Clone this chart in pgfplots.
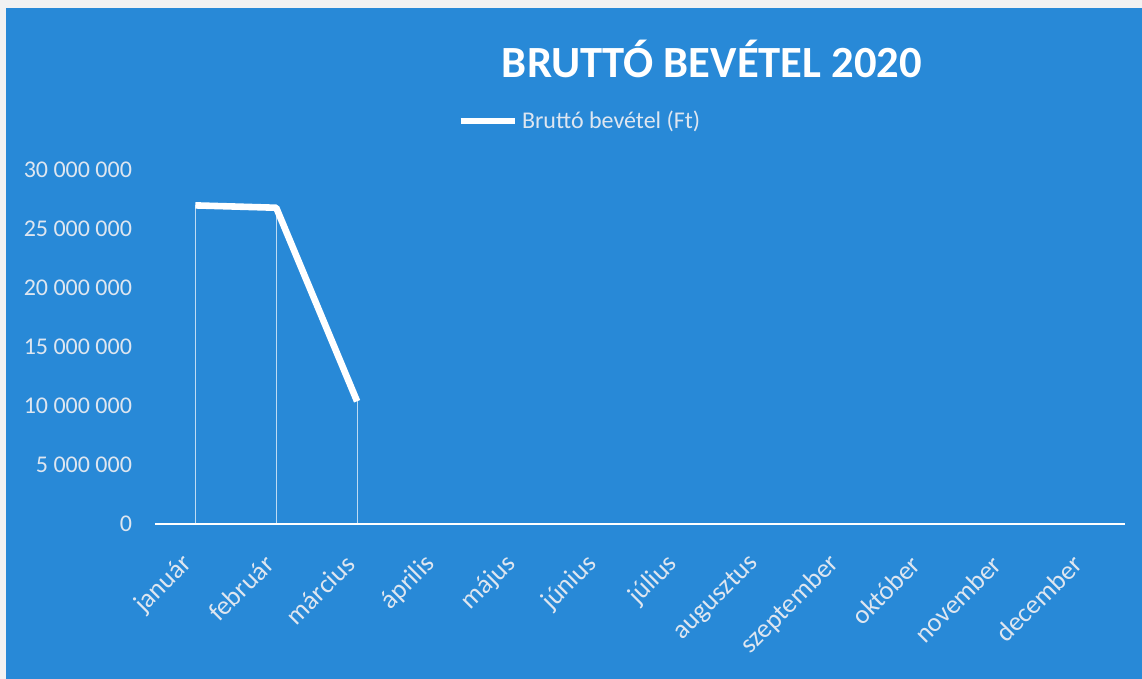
\documentclass[border=0pt]{standalone}
\usepackage{pgfplots}
\pgfplotsset{compat=1.18}
\usepackage{fontspec}
\setmainfont{Carlito}
\definecolor{bg}{RGB}{40,137,215}
\definecolor{ticktxt}{RGB}{222,230,240}
\begin{document}
\begin{tikzpicture}
\fill[white!90!gray] (0pt,0pt) rectangle (571pt,339.5pt);
\fill[bg] (3pt,0pt) rectangle (571pt,335.5pt);
\node[text=white, font=\bfseries\fontsize{22.3}{26}\selectfont] at (356pt,310pt) {BRUTTÓ BEVÉTEL 2020};
\begin{axis}[
  at={(77.5pt,77.5pt)}, anchor=south west,
  scale only axis, width=485pt, height=177pt,
  xmin=-0.5, xmax=11.5, ymin=0, ymax=30000000,
  axis x line=bottom, axis y line=left,
  x axis line style={-, white, line width=1.2pt},
  y axis line style={draw=none},
  major tick length=0pt,
  ytick={0,5000000,10000000,15000000,20000000,25000000,30000000},
  scaled y ticks=false,
  /pgf/number format/fixed,
  /pgf/number format/precision=0,
  /pgf/number format/1000 sep={\ },
  /pgf/number format/assume math mode=true,
  yticklabel style={text=ticktxt, font=\fontsize{12}{14}\selectfont, xshift=-8pt},
  xtick={0,1,2,3,4,5,6,7,8,9,10,11},
  xticklabels={január,február,március,április,május,június,július,augusztus,szeptember,október,november,december},
  xticklabel style={xshift=-1pt, yshift=-15.5pt, rotate=45, anchor=east, text=ticktxt, font=\fontsize{13.3}{15}\selectfont},
  clip=false,
  legend style={at={(rel axis cs:0.439,1.138)}, anchor=center, draw=none, fill=none, text=ticktxt, font=\fontsize{12}{14}\selectfont},
  legend image code/.code={\draw[white, line width=3.3pt] (0pt,0pt) -- (27pt,0pt);},
]
\addplot[ycomb, white, opacity=0.7, line width=0.55pt, forget plot] coordinates {(0,27000000) (1,26800000) (2,10400000)};
\addplot[white, line width=3.3pt, line join=round] coordinates {(0,27000000) (1,26800000) (2,10400000)};
\addlegendentry{Bruttó bevétel (Ft)}
\end{axis}
\end{tikzpicture}
\end{document}
